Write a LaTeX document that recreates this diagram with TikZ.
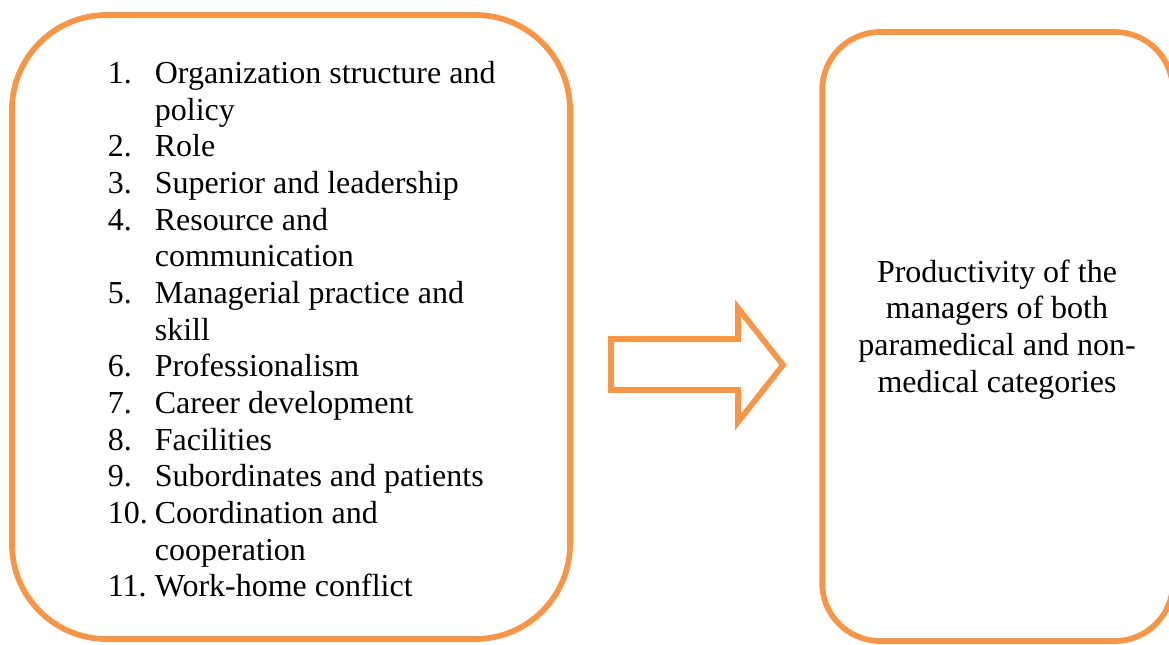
\documentclass[tikz,border=0pt]{standalone}
\usepackage{fontspec}
\setmainfont{Liberation Serif}
\usepackage{xcolor}
\usepackage{tikz}
\usetikzlibrary{positioning}
\definecolor{boxorange}{HTML}{F79646}

\begin{document}
\begin{tikzpicture}[x=0.75pt,y=-0.75pt,line width=4.3pt,
  panel/.style={draw=boxorange,rectangle,inner sep=0pt},
  itemtext/.style={font=\fontsize{24}{27.5}\selectfont,inner sep=0pt}]
\useasboundingbox (0,0) rectangle (1169,644);
\node[panel,rounded corners=71pt,minimum width=418.5pt,minimum height=468pt] (factors) at (291,327) {};
\node[panel,rounded corners=43.5pt,minimum width=263pt,minimum height=456.75pt] (outcome) at (997.5,336.5) {};
\node[itemtext,anchor=base west] (list) at (105,83.5) {%
\begin{tabular}[t]{@{}p{35.25pt}@{}l@{}}
1.  & Organization structure and\\
    & policy\\
2.  & Role\\
3.  & Superior and leadership\\
4.  & Resource and\\
    & communication\\
5.  & Managerial practice and\\
    & skill\\
6.  & Professionalism\\
7.  & Career development\\
8.  & Facilities\\
9.  & Subordinates and patients\\
10. & Coordination and\\
    & cooperation\\
11. & Work-home conflict
\end{tabular}};
\node[itemtext,align=center,anchor=base] (prod) at (997,392) {Productivity of the\\managers of both\\paramedical and non-\\medical categories};
% block arrow between the two boxes
\draw[boxorange] (611,339) -- (738,339) -- (738,308) -- (783,365) -- (738,422) -- (738,390) -- (611,390) -- cycle;
\end{tikzpicture}
\end{document}
